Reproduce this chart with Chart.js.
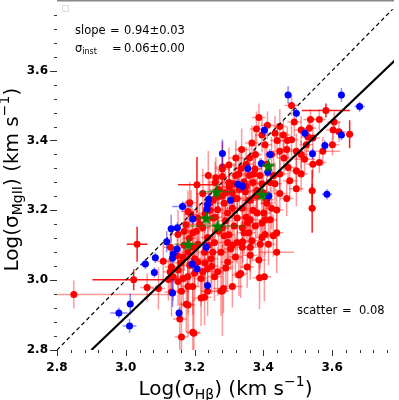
<!DOCTYPE html>
<html>
<head>
<meta charset="utf-8">
<script src="https://cdn.jsdelivr.net/npm/chart.js@4.4.0/dist/chart.umd.min.js"></script>
<style>
html, body { margin: 0; padding: 0; background: #fff; overflow: hidden; }
canvas { display: block; }
</style>
</head>
<body>
<canvas id="myChart" width="399" height="400"></canvas>
<script>
// red sample (light error bars)
var redX = [
    3.482, 3.387, 3.537, 3.563, 3.606, 3.490, 3.448, 3.534, 3.603, 3.434,
    3.458, 3.367, 3.544, 3.482, 3.601, 3.573, 3.496, 3.448, 3.377, 3.520,
    3.563, 3.544, 3.472, 3.496, 3.448, 3.372, 3.477, 3.434, 3.396, 3.382,
    3.448, 3.439, 3.362, 3.410, 3.382, 3.412, 3.380, 3.396, 3.620, 3.337,
    3.281, 3.281, 3.281, 3.262, 3.329, 3.350, 3.315, 3.301, 3.186, 3.181,
    3.267, 3.286, 3.315, 3.348, 3.358, 3.267, 3.296, 3.062, 2.849, 3.109,
    3.129, 3.133, 3.157, 3.162, 3.176, 3.195, 3.152, 3.167, 3.133, 3.152,
    3.186, 3.181, 3.162, 3.181, 3.198, 3.219, 3.229, 3.277, 3.284, 3.310,
    3.329, 3.291, 3.258, 3.238, 3.219, 3.200, 3.248, 3.277, 3.305, 3.324,
    3.344, 3.353, 3.315, 3.286, 3.258, 3.229, 3.210, 3.138, 3.124, 3.095,
    3.362, 3.377, 3.358, 3.367, 3.362, 3.362, 3.405, 3.420, 3.396, 3.405,
    3.391, 3.429, 3.439, 3.439, 3.389, 3.403, 3.334, 3.281, 3.401, 3.415,
    3.253, 3.281, 3.324, 3.224, 3.195, 3.238, 3.296, 3.339, 3.210, 3.181,
    3.190, 3.224, 3.244, 3.210, 3.175, 3.152, 3.130, 3.167, 3.195, 3.310,
    3.339, 3.324, 3.339, 3.319, 3.296, 3.253, 3.267, 3.224, 3.195, 3.238,
    3.353, 3.387, 3.344, 3.376, 3.410, 3.424, 3.405, 3.510, 3.468, 3.525,
    3.496, 3.468, 3.510, 3.424, 3.396, 3.170, 3.185, 3.205, 3.215, 3.230,
    3.245, 3.255, 3.270, 3.290, 3.300, 3.320, 3.335, 3.360, 3.370, 3.390,
    3.350, 3.330, 3.310, 3.280, 3.260, 3.270, 3.290, 3.300, 3.310, 3.340,
    3.350, 3.370, 3.380, 3.400, 3.420, 3.430, 3.410, 3.240, 3.250, 3.230,
    3.200, 3.180, 3.160, 3.150, 3.170, 3.260, 3.240, 3.300, 3.320, 3.360,
    3.460, 3.470, 3.440, 3.510, 3.530
];
var redY = [
    3.500, 3.466, 3.460, 3.460, 3.453, 3.453, 3.440, 3.435, 3.430, 3.421,
    3.416, 3.393, 3.407, 3.402, 3.388, 3.369, 3.369, 3.369, 3.360, 3.346,
    3.337, 3.332, 3.323, 3.313, 3.304, 3.304, 3.285, 3.276, 3.276, 3.257,
    3.248, 3.201, 3.229, 3.220, 3.192, 3.444, 3.433, 3.416, 3.425, 3.374,
    3.324, 3.318, 3.297, 3.293, 3.304, 3.332, 3.276, 3.267, 3.222, 3.197,
    3.239, 3.220, 3.234, 3.253, 3.229, 3.202, 3.192, 2.979, 2.959, 3.054,
    3.024, 2.966, 2.889, 2.837, 2.931, 2.851, 2.996, 3.005, 3.038, 3.029,
    3.043, 2.982, 2.968, 2.929, 2.848, 2.949, 2.951, 2.968, 2.976, 2.982,
    3.015, 3.035, 3.010, 3.033, 3.005, 3.061, 3.061, 3.080, 3.089, 3.108,
    3.136, 3.164, 3.155, 3.127, 3.108, 3.080, 3.103, 3.010, 3.002, 2.976,
    3.173, 3.155, 3.136, 3.113, 3.094, 3.071, 3.173, 3.173, 3.122, 3.131,
    3.103, 3.127, 3.136, 3.080, 3.007, 3.010, 3.019, 2.970, 3.192, 3.103,
    3.178, 3.150, 3.178, 3.150, 3.136, 3.122, 3.108, 3.094, 3.052, 3.080,
    3.188, 3.248, 3.220, 3.178, 3.159, 3.131, 3.094, 3.066, 3.094, 3.206,
    3.206, 3.234, 3.150, 3.066, 3.052, 3.080, 3.024, 3.024, 2.982, 2.968,
    3.038, 3.058, 3.282, 3.318, 3.332, 3.360, 3.388, 3.430, 3.374, 3.388,
    3.262, 3.234, 3.304, 3.206, 3.164, 3.100, 3.120, 3.140, 3.160, 3.190,
    3.200, 3.230, 3.260, 3.250, 3.280, 3.300, 3.320, 3.300, 3.280, 3.300,
    3.270, 3.260, 3.250, 3.240, 3.180, 3.140, 3.170, 3.130, 3.100, 3.110,
    3.180, 3.200, 3.240, 3.250, 3.280, 3.300, 3.230, 3.100, 3.040, 3.050,
    3.020, 3.010, 3.050, 3.070, 3.140, 3.280, 3.300, 3.330, 3.350, 3.350,
    3.350, 3.400, 3.400, 3.360, 3.410
];
var redXErr = [
    .02, .02, .02, .02, .02, .02, .02, .02, .02, .02,
    .02, .02, .02, .02, .02, .05, .02, .02, .02, .03,
    .02, .02, .02, .02, .02, .02, .02, .02, .02, .02,
    .02, .02, .02, .02, .02, .02, .02, .02, .02, .02,
    .02, .02, .02, .02, .02, .02, .02, .02, .02, .02,
    .02, .02, .02, .02, .02, .02, .02, .02, .28, .02,
    .02, .02, .02, .02, .02, .02, .02, .02, .02, .02,
    .02, .02, .02, .02, .02, .02, .02, .02, .03, .03,
    .02, .02, .02, .02, .02, .02, .02, .02, .02, .02,
    .02, .02, .02, .02, .02, .02, .02, .02, .02, .02,
    .02, .02, .02, .02, .02, .02, .02, .02, .02, .02,
    .02, .02, .02, .05, .02, .02, .02, .02, .02, .02,
    .02, .02, .02, .02, .02, .02, .02, .02, .02, .02,
    .02, .02, .02, .02, .02, .02, .02, .02, .02, .02,
    .02, .02, .02, .02, .02, .02, .02, .02, .02, .02,
    .02, .02, .02, .02, .02, .02, .02, .02, .02, .02,
    .02, .02, .02, .02, .02, .02, .02, .02, .02, .02,
    .02, .02, .02, .02, .02, .02, .02, .02, .02, .02,
    .02, .02, .02, .02, .02, .02, .02, .02, .03, .02,
    .02, .02, .02, .02, .02, .02, .02, .02, .02, .02,
    .02, .02, .02, .02, .02, .02, .02, .02, .02, .02,
    .02, .02, .02, .02, .02
];
var redYErr = [
    .03, .04, .03, .03, .03, .04, .05, .03, .03, .05,
    .04, .05, .04, .05, .03, .04, .05, .05, .06, .04,
    .03, .04, .05, .05, .06, .06, .05, .06, .06, .06,
    .05, .06, .06, .05, .07, .04, .05, .05, .03, .06,
    .07, .08, .06, .06, .06, .05, .06, .06, .06, .06,
    .06, .07, .06, .06, .06, .07, .07, .04, .04, .05,
    .06, .07, .09, .10, .08, .12, .07, .07, .06, .06,
    .07, .08, .08, .09, .10, .08, .08, .07, .07, .06,
    .06, .07, .07, .07, .08, .07, .07, .06, .06, .06,
    .06, .06, .06, .07, .07, .07, .07, .07, .06, .06,
    .06, .06, .06, .06, .07, .07, .05, .05, .06, .06,
    .07, .06, .06, .06, .09, .07, .07, .13, .06, .06,
    .06, .06, .06, .07, .07, .07, .06, .06, .07, .07,
    .07, .07, .07, .07, .07, .07, .06, .07, .07, .06,
    .06, .06, .06, .06, .07, .07, .07, .07, .08, .07,
    .06, .06, .06, .06, .05, .05, .05, .04, .05, .04,
    .05, .05, .05, .06, .06, .07, .06, .07, .06, .06,
    .06, .07, .06, .06, .05, .06, .05, .05, .06, .05,
    .06, .06, .06, .07, .06, .07, .06, .07, .06, .06,
    .06, .06, .05, .06, .05, .05, .06, .07, .08, .07,
    .08, .08, .07, .07, .06, .06, .07, .05, .05, .05,
    .05, .04, .05, .04, .04
];

// red sample (solid error bars)
var redDarkX = [3.582, 3.651, 3.542, 3.542, 3.207, 3.033, 3.023];
var redDarkY = [3.486, 3.418, 3.256, 3.206, 3.273, 3.103, 3.001];
var redDarkXErr = [0.07, 0.01, 0.01, 0.01, 0.055, 0.03, 0.12];
var redDarkYErr = [0.02, 0.04, 0.06, 0.07, 0.08, 0.05, 0.03];

// blue sample
var blueX = [
    3.472, 3.627, 3.680, 3.496, 3.403, 3.521, 3.627, 3.579, 3.281, 3.543,
    3.419, 3.355, 3.394, 3.413, 3.326, 3.340, 3.241, 3.305, 3.416, 3.585,
    3.165, 3.238, 3.236, 3.195, 3.132, 3.150, 3.119, 3.149, 3.138, 3.136,
    3.234, 3.086, 3.057, 3.083, 3.193, 3.207, 3.238, 3.136, 3.155, 2.980,
    3.013, 3.011
];
var blueY = [
    3.530, 3.530, 3.497, 3.478, 3.429, 3.421, 3.416, 3.386, 3.363, 3.362,
    3.360, 3.320, 3.334, 3.309, 3.275, 3.269, 3.232, 3.229, 3.241, 3.246,
    3.211, 3.217, 3.203, 3.175, 3.147, 3.150, 3.110, 3.089, 3.075, 3.063,
    3.094, 3.064, 3.046, 3.022, 3.046, 3.033, 2.985, 2.963, 2.906, 2.906,
    2.932, 2.869
];
var blueXErr = [
    .01, .01, .015, .01, .01, .01, .01, .01, .01, .01,
    .01, .01, .01, .01, .01, .01, .01, .01, .01, .015,
    .03, .01, .01, .01, .01, .01, .01, .01, .01, .01,
    .01, .01, .01, .01, .01, .01, .01, .01, .01, .025,
    .01, .02
];
var blueYErr = [
    .025, .02, .015, .015, .015, .015, .015, .015, .04, .015,
    .015, .015, .015, .015, .015, .015, .015, .015, .015, .015,
    .015, .015, .015, .015, .04, .015, .03, .015, .015, .015,
    .015, .015, .015, .015, .015, .015, .015, .04, .015, .015,
    .03, .02
];

// green stars
var starX = [3.415, 3.264, 3.396, 3.234, 3.267, 3.181];
var starY = [3.328, 3.253, 3.245, 3.178, 3.155, 3.103];
var starXErr = [0.02, 0.05, 0.02, 0.03, 0.08, 0.04];
var starYErr = [0.02, 0.02, 0.02, 0.02, 0.02, 0.02];

// 1:1 line and fit
var oneX = [2.8, 3.8];
var oneY = [2.8, 3.8];
var fitX = [2.9, 3.8];
var fitY = [2.8, 3.646];

var xTicks = [];
var yTicks = [];
for (var i = 0; i <= 24; i++) {
    xTicks.push(+(2.8 + 0.04 * i).toFixed(2));
    yTicks.push(+(2.8 + 0.04 * i).toFixed(2));
}

function isMajor(v) {
    return Math.abs(v * 5 - Math.round(v * 5)) < 1e-6;
}

function pts(xs, ys) {
    return xs.map(function (x, i) { return {x: x, y: ys[i]}; });
}

// filled star marker
var starImg = document.createElement('canvas');
starImg.width = 15;
starImg.height = 15;
(function () {
    var c = starImg.getContext('2d');
    c.beginPath();
    for (var k = 0; k < 10; k++) {
        var r = k % 2 === 0 ? 7.2 : 2.9;
        var a = -Math.PI / 2 + k * Math.PI / 5;
        var px = 7.5 + r * Math.cos(a), py = 8 + r * Math.sin(a);
        if (k === 0) c.moveTo(px, py); else c.lineTo(px, py);
    }
    c.closePath();
    c.fillStyle = '#008000';
    c.fill();
})();

var errorBars = {
    id: 'errorBars',
    beforeDatasetDraw: function (chart, args) {
        var ds = chart.data.datasets[args.index];
        if (!ds.xErr) return;
        var ctx = chart.ctx, xs = chart.scales.x, ys = chart.scales.y, a = chart.chartArea;
        ctx.save();
        ctx.beginPath();
        ctx.rect(a.left, a.top, a.right - a.left, a.bottom - a.top);
        ctx.clip();
        ctx.strokeStyle = ds.barColor;
        ctx.lineWidth = 1.5;
        ds.data.forEach(function (p, i) {
            var px = xs.getPixelForValue(p.x), py = ys.getPixelForValue(p.y);
            ctx.beginPath();
            ctx.moveTo(xs.getPixelForValue(p.x - ds.xErr[i]), py);
            ctx.lineTo(xs.getPixelForValue(p.x + ds.xErr[i]), py);
            ctx.moveTo(px, ys.getPixelForValue(p.y - ds.yErr[i]));
            ctx.lineTo(px, ys.getPixelForValue(p.y + ds.yErr[i]));
            ctx.stroke();
        });
        ctx.restore();
    }
};

function drawRich(ctx, parts) {
    var total = 0;
    parts.forEach(function (p) {
        ctx.font = p.s + 'px "DejaVu Sans"';
        p.w = ctx.measureText(p.t).width;
        total += p.w;
    });
    var x = -total / 2;
    parts.forEach(function (p) {
        ctx.font = p.s + 'px "DejaVu Sans"';
        ctx.fillText(p.t, x, p.dy);
        x += p.w;
    });
}

var decor = {
    id: 'decor',
    afterDraw: function (chart) {
        var ctx = chart.ctx, a = chart.chartArea, xs = chart.scales.x, ys = chart.scales.y;
        ctx.save();
        // tick marks
        ctx.strokeStyle = '#333';
        ctx.lineWidth = 1;
        xTicks.forEach(function (v) {
            var px = Math.round(xs.getPixelForValue(v)) + 0.5;
            ctx.beginPath();
            ctx.moveTo(px, a.bottom);
            ctx.lineTo(px, a.bottom + (isMajor(v) ? 6 : 3));
            ctx.stroke();
        });
        yTicks.forEach(function (v) {
            var py = Math.round(ys.getPixelForValue(v)) + 0.5;
            ctx.beginPath();
            ctx.moveTo(a.left, py);
            ctx.lineTo(a.left - (isMajor(v) ? 7 : 3), py);
            ctx.stroke();
        });
        // top frame line
        ctx.fillStyle = '#888';
        ctx.fillRect(a.left, 0, a.right - a.left, 1.5);
        // empty legend box
        ctx.strokeStyle = '#ddd';
        ctx.strokeRect(62.5, 5.5, 6, 6);

        ctx.fillStyle = '#000';
        ctx.textBaseline = 'alphabetic';
        ctx.textAlign = 'left';
        ctx.font = '11.5px "DejaVu Sans"';
        ctx.fillText('slope', 75, 34);
        ctx.fillText('=', 110, 34);
        ctx.fillText('0.94\u00b10.03', 124, 34);
        ctx.fillText('\u03c3', 75, 52);
        var sw = ctx.measureText('\u03c3').width;
        ctx.font = '8px "DejaVu Sans"';
        ctx.fillText('inst', 75 + sw, 54);
        ctx.font = '11.5px "DejaVu Sans"';
        ctx.fillText('=', 112, 52);
        ctx.fillText('0.06\u00b10.00', 124, 52);
        ctx.fillText('scatter', 297, 314);
        ctx.fillText('=', 342, 314);
        ctx.fillText('0.08', 359, 314);

        // axis titles
        ctx.save();
        ctx.translate((a.left + a.right) / 2, 395);
        drawRich(ctx, [
            {t: 'Log(\u03c3', s: 20, dy: 0},
            {t: 'H\u03b2', s: 14, dy: 4},
            {t: ') (km s', s: 20, dy: 0},
            {t: '\u22121', s: 14, dy: -9},
            {t: ')', s: 20, dy: 0}
        ]);
        ctx.restore();
        ctx.save();
        ctx.translate(18, (a.top + a.bottom) / 2);
        ctx.rotate(-Math.PI / 2);
        drawRich(ctx, [
            {t: 'Log(\u03c3', s: 20, dy: 0},
            {t: 'MgII', s: 14, dy: 4},
            {t: ') (km s', s: 20, dy: 0},
            {t: '\u22121', s: 14, dy: -9},
            {t: ')', s: 20, dy: 0}
        ]);
        ctx.restore();
        ctx.restore();
    }
};

var tickFont = {family: 'DejaVu Sans', size: 12, weight: 'bold'};

new Chart('myChart', {
    type: 'scatter',
    data: {
        datasets: [{
                data: pts(starX, starY),
                xErr: starXErr, yErr: starYErr, barColor: 'rgba(0,128,0,0.5)',
                pointStyle: starImg
            }, {
                data: pts(blueX, blueY),
                xErr: blueXErr, yErr: blueYErr, barColor: 'rgba(0,0,255,0.45)',
                backgroundColor: '#0000ff', borderWidth: 0, pointRadius: 3.5
            }, {
                data: pts(oneX, oneY),
                showLine: true, borderColor: '#000', borderWidth: 1.2, borderDash: [4, 3], pointRadius: 0
            }, {
                data: pts(fitX, fitY),
                showLine: true, borderColor: '#000', borderWidth: 2.2, pointRadius: 0
            }, {
                data: pts(redDarkX, redDarkY),
                xErr: redDarkXErr, yErr: redDarkYErr, barColor: 'rgba(255,0,0,0.9)',
                backgroundColor: '#ff0000', borderWidth: 0, pointRadius: 3.5
            }, {
                data: pts(redX, redY),
                xErr: redXErr, yErr: redYErr, barColor: 'rgba(255,0,0,0.4)',
                backgroundColor: '#ff0000', borderWidth: 0, pointRadius: 3.5
            }]
    },
    options: {
        responsive: false,
        animation: false,
        devicePixelRatio: 1,
        layout: {padding: {top: 1, right: 0, bottom: 0, left: 0}},
        plugins: {legend: {display: false}, tooltip: {enabled: false}},
        scales: {
            x: {
                type: 'linear', min: 2.8, max: 3.78,
                afterBuildTicks: function (s) { s.ticks = xTicks.map(function (v) { return {value: v}; }); },
                afterFit: function (s) { s.height = 50; },
                grid: {display: true, drawOnChartArea: false, drawTicks: true, tickLength: 7, color: 'rgba(0,0,0,0)', tickColor: 'rgba(0,0,0,0)'},
                border: {display: false},
                ticks: {
                    autoSkip: false, maxRotation: 0, padding: 4, color: '#000', font: tickFont,
                    callback: function (v) { return isMajor(v) ? v.toFixed(1) : ''; }
                }
            },
            y: {
                type: 'linear', min: 2.8, max: 3.776,
                afterBuildTicks: function (s) { s.ticks = yTicks.map(function (v) { return {value: v}; }); },
                afterFit: function (s) { s.width = 57; },
                grid: {display: true, drawOnChartArea: false, drawTicks: true, tickLength: 7, color: 'rgba(0,0,0,0)', tickColor: 'rgba(0,0,0,0)'},
                border: {display: false},
                ticks: {
                    autoSkip: false, padding: 2, color: '#000', font: tickFont,
                    callback: function (v) { return isMajor(v) ? v.toFixed(1) : ''; }
                }
            }
        }
    },
    plugins: [errorBars, decor]
});
</script>
</body>
</html>
